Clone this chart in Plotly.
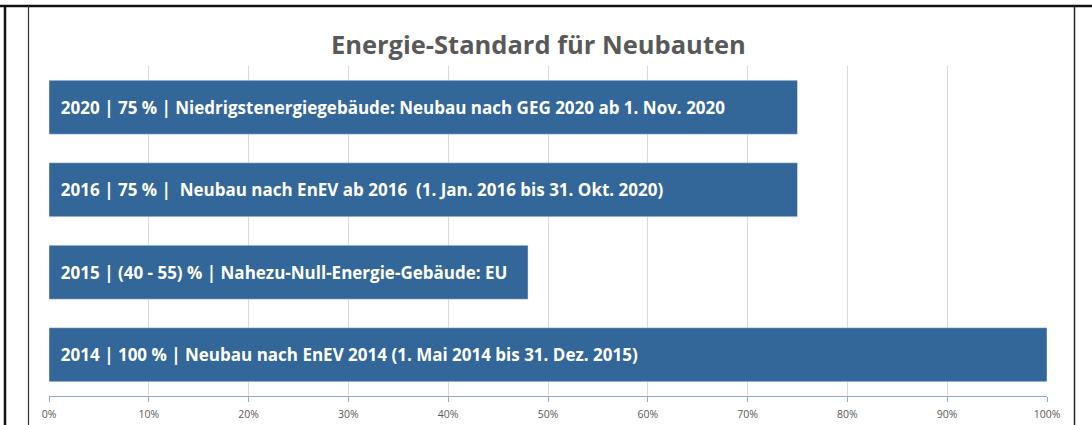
import plotly.graph_objects as go

categories = ["2014", "2015", "2016", "2020"]
values = [100, 48, 75, 75]
labels = [
    "2014 | 100 % | Neubau nach EnEV 2014 (1. Mai 2014 bis 31. Dez. 2015)",
    "2015 | (40 - 55) % | Nahezu-Null-Energie-Gebäude: EU",
    "2016 | 75 % |\u00a0 Neubau nach EnEV ab 2016\u00a0 (1. Jan. 2016 bis 31. Okt. 2020)",
    "2020 | 75 % | Niedrigstenergiegebäude: Neubau nach GEG 2020 ab 1. Nov. 2020",
]
tick_vals = [0, 10, 20, 30, 40, 50, 60, 70, 80, 90, 100]
tick_text = [f"{v}%" for v in tick_vals]
title_text = "Energie-Standard für Neubauten"

W, H = 1092, 425
ML, MR, MT, MB = 49, 45, 66, 29
PW, PH = W - ML - MR, H - MT - MB

def px(x):
    return (x - ML) / PW

def py(y):
    return 1 - (y - MT) / PH

BAR = "#336699"
GRAY = "#595959"

fig = go.Figure()
fig.add_trace(go.Bar(
    y=categories, x=values, orientation="h",
    marker_color=BAR, showlegend=False,
    text=["<b>\u00a0\u00a0" + t + "</b>" for t in labels],
    textposition="inside", insidetextanchor="start", textangle=0,
    textfont=dict(family="Open Sans", size=17, color="white"),
    cliponaxis=False,
))

# frame lines
fig.add_shape(type="line", xref="paper", yref="paper", x0=px(0), x1=px(1092), y0=py(6), y1=py(6), line=dict(color="#111111", width=2.5))
fig.add_shape(type="line", xref="paper", yref="paper", x0=px(5), x1=px(5), y0=py(6), y1=py(430), line=dict(color="#111111", width=2.5))
fig.add_shape(type="line", xref="paper", yref="paper", x0=px(28.5), x1=px(28.5), y0=py(6), y1=py(430), line=dict(color="#333333", width=1.2))
fig.add_shape(type="line", xref="paper", yref="paper", x0=px(1074.5), x1=px(1074.5), y0=py(6), y1=py(430), line=dict(color="#222222", width=1.5))

fig.update_layout(
    width=W, height=H,
    margin=dict(l=ML, r=MR, t=MT, b=MB, autoexpand=False),
    paper_bgcolor="white", plot_bgcolor="white",
    bargap=0.345,
    uniformtext=dict(mode=False),
    title=dict(text="<b>" + title_text + "</b>", x=px(541), xanchor="center", y=1 - 45 / H, yanchor="middle",
               font=dict(family="Open Sans", size=25.5, color=GRAY)),
    xaxis=dict(range=[0, 100], tickvals=tick_vals, ticktext=tick_text,
               showgrid=True, gridcolor="#d9d9d9", gridwidth=1,
               showline=True, linecolor="#8eaadb", linewidth=1,
               ticks="outside", ticklen=5, tickcolor="#8eaadb",
               ticklabelstandoff=3,
               tickfont=dict(family="Open Sans", size=10.5, color=GRAY),
               zeroline=False, automargin=False),
    yaxis=dict(type="category", showticklabels=False, showgrid=False, zeroline=False, ticks="",
               range=[-0.5, 3.5], automargin=False),
)

fig.write_html("out.html", config={"displayModeBar": False},
               post_script="document.body.style.margin='0';document.body.style.overflow='hidden';")
